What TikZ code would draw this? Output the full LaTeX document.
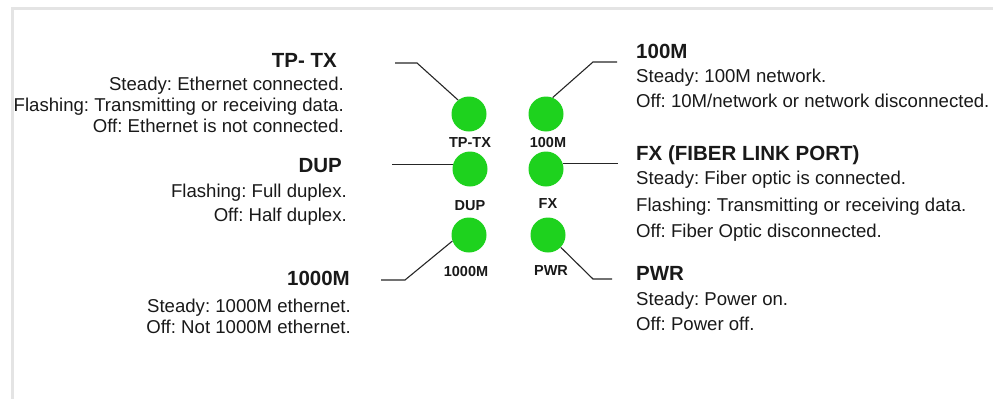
\documentclass[tikz,border=0pt]{standalone}
\usepackage{fontspec}
\setmainfont{Liberation Sans}
\definecolor{ledgreen}{RGB}{30,210,30}
\definecolor{txt}{RGB}{25,25,25}
\definecolor{framegray}{RGB}{228,228,228}
\frenchspacing
\begin{document}
\begin{tikzpicture}[x=1pt,y=-1pt,
  led/.style={circle,fill=ledgreen,minimum size=35pt,inner sep=0pt},
  ledlabel/.style={font=\fontsize{14.5}{16}\selectfont\bfseries,inner sep=0pt,text=txt},
  hdr/.style={font=\fontsize{20.5}{24}\selectfont\bfseries,inner sep=0pt,text=txt},
  dsc/.style={font=\fontsize{18.6}{21}\selectfont,inner sep=0pt,text=txt},
  wire/.style={draw=black!85,line width=1.1pt}]
\useasboundingbox (0,0) rectangle (993,399);
\draw[framegray,line width=3.5pt] (12.5,399) -- (12.5,8.5) -- (993,8.5);

% LEDs
\node[led] (tptx) at (469,114) {};
\node[led] (m100) at (546,114) {};
\node[led] (dup) at (470,169) {};
\node[led] (fx) at (546,169) {};
\node[led] (m1000) at (469,235) {};
\node[led] (pwr) at (548,235) {};

% LED labels
\node[ledlabel] (tptx-l) at (470,143) {TP-TX};
\node[ledlabel] (m100-l) at (548,143) {100M};
\node[ledlabel] (dup-l) at (470,206) {DUP};
\node[ledlabel] (fx-l) at (548,204) {FX};
\node[ledlabel] (m1000-l) at (466,272) {1000M};
\node[ledlabel] (pwr-l) at (551,271) {PWR};

% Left texts
\node[hdr,anchor=mid east] (tptx-h) at (337,65) {TP- TX};
\node[dsc,anchor=mid east] (tptx-1) at (344,88) {Steady: Ethernet connected.};
\node[dsc,anchor=mid east] (tptx-2) at (344,109) {Flashing: Transmitting or receiving data.};
\node[dsc,anchor=mid east] (tptx-3) at (344,130) {Off: Ethernet is not connected.};

\node[hdr,anchor=mid east] (dup-h) at (342,170) {DUP};
\node[dsc,anchor=mid east] (dup-1) at (347,195) {Flashing: Full duplex.};
\node[dsc,anchor=mid east] (dup-2) at (347,219) {Off: Half duplex.};

\node[hdr,anchor=mid east] (m1000-h) at (350,283) {1000M};
\node[dsc,anchor=mid east] (m1000-1) at (351,310) {Steady: 1000M ethernet.};
\node[dsc,anchor=mid east] (m1000-2) at (351,331) {Off: Not 1000M ethernet.};

% Right texts
\node[hdr,anchor=mid west] (m100-h) at (636,56) {100M};
\node[dsc,anchor=mid west] (m100-1) at (636,80) {Steady: 100M network.};
\node[dsc,anchor=mid west] (m100-2) at (636,105) {Off: 10M/network or network disconnected.};

\node[hdr,anchor=mid west] (fx-h) at (636,158) {FX (FIBER LINK PORT)};
\node[dsc,anchor=mid west] (fx-1) at (636,182) {Steady: Fiber optic is connected.};
\node[dsc,anchor=mid west] (fx-2) at (636,209) {Flashing: Transmitting or receiving data.};
\node[dsc,anchor=mid west] (fx-3) at (636,235) {Off: Fiber Optic disconnected.};

\node[hdr,anchor=mid west] (pwr-h) at (636,278) {PWR};
\node[dsc,anchor=mid west] (pwr-1) at (636,303) {Steady: Power on.};
\node[dsc,anchor=mid west] (pwr-2) at (636,328) {Off: Power off.};

% Connectors
\coordinate (tptx-e) at (395,63);
\coordinate (m100-e) at (617,62);
\coordinate (dup-e) at (392,0);
\coordinate (fx-e) at (618,0);
\coordinate (m1000-e) at (381,280);
\coordinate (pwr-e) at (612,279);

\draw[wire] (tptx-e) -- ++(22,0) -- (tptx.128);
\draw[wire] (m100-e) -- ++(-24,0) -- (m100.68);
\draw[wire] (dup.165) -- (dup.165 -| dup-e);
\draw[wire] (fx.19) -- (fx.19 -| fx-e);
\draw[wire] (m1000-e) -- ++(24,0) -- (m1000.200);
\draw[wire] (pwr-e) -- ++(-19,0) -- (pwr.-44);
\end{tikzpicture}
\end{document}
